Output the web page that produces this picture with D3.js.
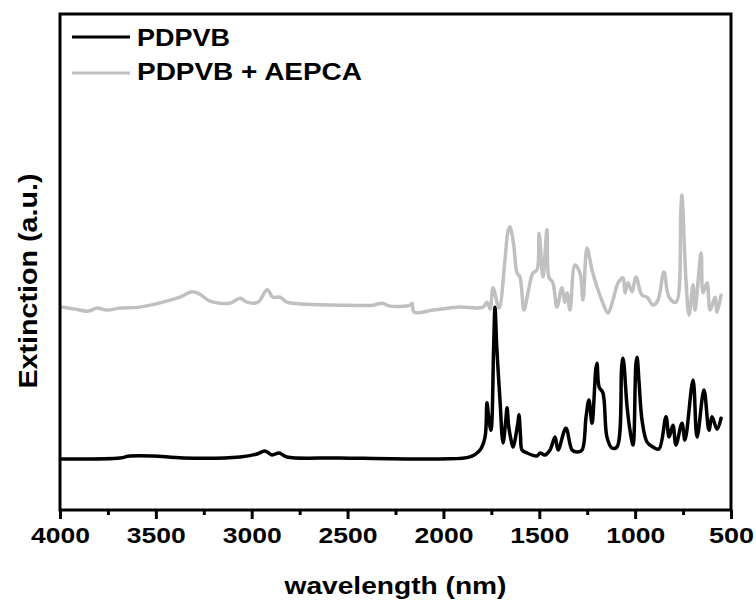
<!DOCTYPE html>
<html>
<head>
<meta charset="utf-8">
<script src="https://cdn.jsdelivr.net/npm/d3@7"></script>
<style>
  html, body { margin: 0; padding: 0; background: #fff; }
  text { font-family: "Liberation Sans", Arial, sans-serif; font-weight: bold; fill: #000; }
</style>
</head>
<body>
<svg id="chart" width="756" height="600"></svg>
<script>
// Spectrum of PDPVB: [wavelength (nm), extinction (a.u.)]
const pdpvb = [
  [3990,0.103],[3687,0.105],[3635,0.109],[3515,0.109],[3358,0.105],[3061,0.107],
  [2972,0.113],[2931,0.119],[2894,0.111],[2858,0.115],[2816,0.107],[2540,0.105],
  [2018,0.103],[1861,0.107],[1809,0.121],[1783,0.147],[1773,0.216],[1765,0.190],[1752,0.161],
  [1738,0.330],[1731,0.409],[1722,0.330],[1705,0.222],[1689,0.135],[1675,0.180],[1668,0.206],[1660,0.170],[1647,0.141],[1637,0.127],
  [1612,0.175],[1606,0.192],[1598,0.150],[1590,0.121],[1564,0.115],[1512,0.109],[1496,0.115],[1470,0.111],
  [1444,0.121],[1418,0.147],[1402,0.121],[1361,0.165],[1329,0.121],[1303,0.117],
  [1277,0.121],[1256,0.188],[1241,0.222],[1225,0.175],[1205,0.285],[1199,0.296],[1188,0.248],
  [1168,0.236],[1147,0.147],[1121,0.125],[1095,0.127],[1070,0.290],[1063,0.306],[1042,0.208],
  [1027,0.161],[1011,0.131],[996,0.295],[990,0.308],[980,0.260],[964,0.181],[938,0.137],[907,0.127],
  [876,0.123],[839,0.188],[823,0.147],[803,0.171],[787,0.131],[756,0.175],
  [740,0.141],[698,0.262],[677,0.147],[641,0.242],[615,0.161],[599,0.188],
  [573,0.163],[552,0.185]
];

// Spectrum of PDPVB + AEPCA (offset trace)
const pdpvbAepca = [
  [3990,0.409],[3922,0.405],[3854,0.401],[3807,0.407],[3755,0.403],[3687,0.407],
  [3583,0.409],[3463,0.419],[3374,0.429],[3311,0.440],[3270,0.435],[3218,0.421],
  [3113,0.417],[3061,0.427],[3025,0.419],[2967,0.419],[2920,0.444],[2889,0.429],
  [2852,0.429],[2816,0.419],[2712,0.415],[2540,0.413],[2367,0.413],[2320,0.417],
  [2279,0.411],[2174,0.413],[2164,0.417],[2153,0.399],[2054,0.403],[1929,0.409],
  [1794,0.409],[1773,0.419],[1757,0.405],[1741,0.448],[1710,0.407],[1679,0.504],
  [1664,0.560],[1653,0.571],[1642,0.555],[1632,0.530],[1616,0.478],[1601,0.470],[1580,0.403],[1559,0.438],
  [1533,0.478],[1512,0.484],[1501,0.558],[1481,0.470],[1460,0.565],[1450,0.470],
  [1429,0.458],[1408,0.409],[1382,0.448],[1366,0.419],[1355,0.438],[1340,0.403],
  [1314,0.494],[1288,0.478],[1272,0.423],[1251,0.528],[1225,0.484],[1199,0.450],
  [1168,0.417],[1142,0.397],[1116,0.423],[1089,0.458],[1063,0.468],[1053,0.438],
  [1037,0.458],[1016,0.440],[996,0.470],[964,0.433],[938,0.429],[907,0.413],
  [881,0.423],[850,0.480],[823,0.429],[787,0.419],[762,0.600],[756,0.635],[735,0.464],
  [719,0.393],[698,0.454],[688,0.403],[656,0.518],[646,0.438],[625,0.458],
  [609,0.403],[583,0.429],[573,0.399],[552,0.433]
];

const xMajorTicks = [4000, 3500, 3000, 2500, 2000, 1500, 1000, 500];
const xMinorTicks = [3750, 3250, 2750, 2250, 1750, 1250, 750];
const seriesNames = ["PDPVB", "PDPVB + AEPCA"];
const seriesColors = ["#000000", "#c0c0c0"];

const svg = d3.select("#chart");
const plot = { left: 60, right: 731, top: 14, bottom: 510 };

const x = d3.scaleLinear().domain([4000, 500]).range([plot.left, plot.right]);
const y = d3.scaleLinear().domain([0, 1]).range([plot.bottom, plot.top]);

const line = d3.line()
  .x(d => x(d[0])).y(d => y(d[1]))
  .curve(d3.curveCatmullRom.alpha(0.5));

// traces
[pdpvb, pdpvbAepca].forEach((data, i) => {
  svg.append("path")
    .datum(data)
    .attr("d", line)
    .attr("fill", "none")
    .attr("stroke", seriesColors[i])
    .attr("stroke-width", 3.5)
    .attr("stroke-linejoin", "round")
    .attr("stroke-linecap", "round");
});

// frame
svg.append("rect")
  .attr("x", plot.left).attr("y", plot.top)
  .attr("width", plot.right - plot.left).attr("height", plot.bottom - plot.top)
  .attr("fill", "none").attr("stroke", "#000").attr("stroke-width", 3);

// x axis: major ticks with labels, minor ticks without
const xAxis = svg.append("g").attr("transform", `translate(0,${plot.bottom})`)
  .call(d3.axisBottom(x).tickValues(xMajorTicks).tickSize(9).tickSizeOuter(0).tickFormat(d3.format("d")));
xAxis.select(".domain").remove();
xAxis.selectAll(".tick line").attr("stroke-width", 3);
xAxis.selectAll(".tick text")
  .attr("font-size", 22)
  .attr("font-family", "'Liberation Sans', Arial, sans-serif")
  .attr("font-weight", "bold")
  .attr("fill", "#000")
  .attr("dy", null)
  .attr("y", 33)
  .attr("textLength", 59)
  .attr("lengthAdjust", "spacingAndGlyphs")
  .filter(d => d === 500).attr("textLength", 45);

const xMinor = svg.append("g").attr("transform", `translate(0,${plot.bottom})`)
  .call(d3.axisBottom(x).tickValues(xMinorTicks).tickSize(5).tickSizeOuter(0).tickFormat(""));
xMinor.select(".domain").remove();
xMinor.selectAll(".tick line").attr("stroke-width", 3);

// axis titles
svg.append("text")
  .attr("x", (plot.left + plot.right) / 2).attr("y", 594)
  .attr("text-anchor", "middle")
  .attr("font-size", 24)
  .attr("textLength", 222).attr("lengthAdjust", "spacingAndGlyphs")
  .text("wavelength (nm)");

svg.append("text")
  .attr("transform", "translate(37,281) rotate(-90)")
  .attr("text-anchor", "middle")
  .attr("font-size", 26)
  .attr("textLength", 215).attr("lengthAdjust", "spacingAndGlyphs")
  .text("Extinction (a.u.)");

// legend
const legendRows = [{ y: 37, base: 46, len: 93 }, { y: 73, base: 80, len: 225 }];
legendRows.forEach((r, i) => {
  svg.append("line")
    .attr("x1", 72).attr("x2", 130).attr("y1", r.y).attr("y2", r.y)
    .attr("stroke", seriesColors[i]).attr("stroke-width", 3);
  svg.append("text")
    .attr("x", 137).attr("y", r.base)
    .attr("font-size", 24)
    .attr("textLength", r.len).attr("lengthAdjust", "spacingAndGlyphs")
    .text(seriesNames[i]);
});
</script>
</body>
</html>
